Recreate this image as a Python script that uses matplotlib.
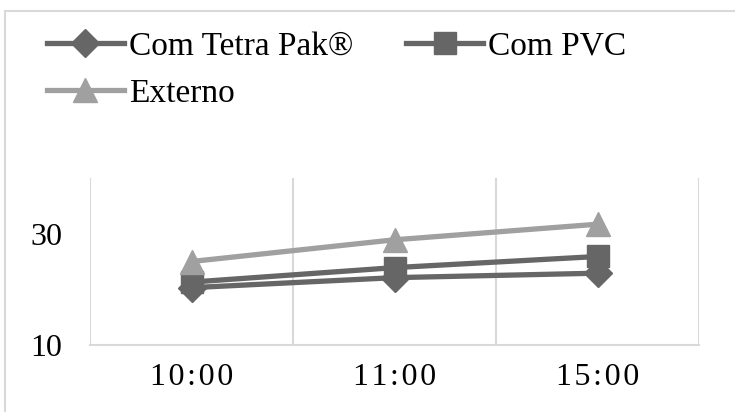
import matplotlib.pyplot as plt

horarios = ["10:00", "11:00", "15:00"]
series = ["Com Tetra Pak®", "Com PVC", "Externo"]
tetra_pak = [20.3, 22.1, 22.9]
pvc = [21.3, 23.9, 25.9]
externo = [25.0, 28.9, 31.7]
y_ticks = [10, 30]

plt.rcParams['font.family'] = ['Liberation Serif', 'DejaVu Serif']

fig = plt.figure(figsize=(7.35, 4.12), dpi=100)
ax = fig.add_axes([90 / 735, 1 - 345 / 412, 609 / 735, 167 / 412])

# chart area border (cut at right/bottom like the reference)
fig.patches.append(plt.Rectangle((5 / 735, -0.1), 1.2, 1 - 11 / 412 + 0.1,
                                 transform=fig.transFigure, fill=False,
                                 edgecolor='#d9d9d9', linewidth=1.5))

x = range(len(horarios))
dark = '#666666'
light = '#a0a0a0'
l1, = ax.plot(x, tetra_pak, color=dark, lw=3.8, marker='D', ms=14, label=series[0], zorder=3)
l2, = ax.plot(x, pvc, color=dark, lw=3.8, marker='s', ms=15.5, label=series[1], zorder=4)
l3, = ax.plot(x, externo, color=light, lw=3.8, marker='^', ms=17, label=series[2], zorder=5)

ax.set_xlim(-0.5, 2.5)
ax.set_ylim(10, 40)
ax.set_yticks(y_ticks)
ax.set_xticks(list(x))
# Excel spreads the time labels a little
ax.set_xticklabels(['\u200a'.join(h) for h in horarios])
ax.set_xticks([-0.5, 0.5, 1.5, 2.5], minor=True)
ax.grid(which='minor', axis='x', color='#d9d9d9', lw=1.5)
ax.tick_params(which='both', length=0)
ax.tick_params(axis='y', labelsize=23, pad=20)
ax.tick_params(axis='x', labelsize=23, pad=13)
for s in ['top', 'right', 'left']:
    ax.spines[s].set_visible(False)
ax.spines['bottom'].set_color('#d9d9d9')
ax.spines['bottom'].set_linewidth(1.5)

# legend fills column-wise, so order gives rows: Tetra, PVC / Externo
fig.legend([l1, l3, l2], [series[0], series[2], series[1]],
           loc='upper left', bbox_to_anchor=(47 / 735, 1 - 31 / 412), ncol=2,
           frameon=False, fontsize=24, handlelength=2.3, handletextpad=0.15,
           columnspacing=1.6, labelspacing=0.5, numpoints=1,
           borderaxespad=0, borderpad=0)

fig.savefig('out.png', dpi=100)
